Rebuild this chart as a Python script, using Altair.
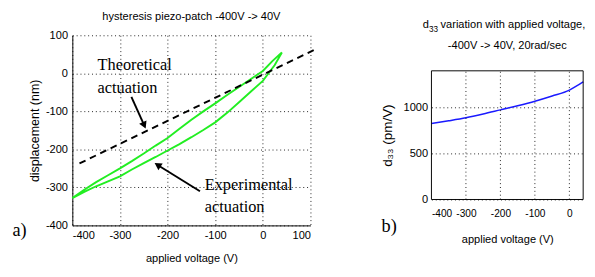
import altair as alt
import pandas as pd

# ---------- data ----------
# Left panel: hysteresis loop, rising branch (lower) then falling branch (upper)
up_volt = [-400, -375, -350, -325, -300, -275, -250, -225, -200, -175, -150, -125, -100, -75, -50, -25, 0, 10, 25, 40]
up_disp = [-328, -312, -297, -284, -271, -253, -236, -220, -203, -186, -168, -149, -129, -104, -76, -48, -20, -3, 22, 55]
down_volt = [40, 20, 0, -25, -50, -75, -100, -125, -150, -175, -200, -225, -250, -275, -300, -325, -350, -375, -400]
down_disp = [55, 32, 6, -15, -36, -57, -79, -100, -122, -146, -170, -190, -211, -231, -250, -268, -286, -306, -328]

theory_volt = [-385, 110]
theory_disp = [-237, 63]

left_ticks = [-400, -300, -200, -100, 0, 100]

# annotation texts (left aligned, baseline positions in data units)
ann_text = ["Theoretical", "actuation", "Experimental", "actuation"]
ann_volt = [-347, -347, -122, -122]
ann_disp = [8, -51, -306, -365]

# arrows: start -> tip
arrow_x = [-276, -132]
arrow_y = [-62, -310]
arrow_x2 = [-249, -221]
arrow_y2 = [-137, -241]
arrow_angle = [156, 302]

# Right panel: d33 vs voltage
d33_volt = [-400, -350, -300, -250, -200, -150, -100, -50, 0, 20, 40]
d33_val = [826, 856, 889, 930, 975, 1020, 1069, 1126, 1190, 1233, 1281]
right_xdomain = [-400, 40]
right_ydomain = [0, 1400]
right_xticks = [-400, -300, -200, -100, 0]
right_xgrid = [-300, -200, -100, 0]
right_yticks = [0, 500, 1000]

# ---------- styling ----------
SANS = "Liberation Sans, Arial, sans-serif"
SERIF = "Liberation Serif, Times New Roman, serif"
GREEN = "#22ee22"
FS = 11.5

loop_df = pd.DataFrame({
    "v": up_volt + down_volt,
    "d": up_disp + down_disp,
    "o": list(range(len(up_volt) + len(down_volt))),
})
theory_df = pd.DataFrame({"v": theory_volt, "d": theory_disp})
ann_df = pd.DataFrame({"t": ann_text, "v": ann_volt, "d": ann_disp})
arrow_df = pd.DataFrame({"x": arrow_x, "y": arrow_y, "x2": arrow_x2, "y2": arrow_y2, "a": arrow_angle})
d33_df = pd.DataFrame({"v": d33_volt, "d": d33_val})


def axis(values, title, orient, grid=True, domain=True, label_size=FS, **kw):
    return alt.Axis(
        values=values, tickCount=20, title=title, grid=grid, gridColor="#000", gridDash=[1, 3],
        gridWidth=1, gridOpacity=0.9, domain=domain, domainColor="#000", domainWidth=1,
        ticks=False, labelFont=SANS, labelFontSize=label_size, labelColor="#000", labelOverlap=False,
        labelExpr="toString(datum.value)", titleFont=SANS, titleFontWeight="normal", titleColor="#000",
        orient=orient, **kw)


def text_at(txt, x, y, size=FS, font=SANS, align="center"):
    return alt.Chart(pd.DataFrame({"t": [txt]})).mark_text(
        font=font, fontSize=size, align=align, baseline="middle", color="#000").encode(
        x=alt.value(x), y=alt.value(y), text="t:N")


# ---------------- left panel ----------------
xl = alt.X("v:Q", scale=alt.Scale(domain=[-400, 100], nice=False),
           axis=axis(left_ticks, "applied voltage (V)", "bottom", labelPadding=5,
                     titleFontSize=FS, titleY=35, titleBaseline="middle"))
yl = alt.Y("d:Q", scale=alt.Scale(domain=[-400, 100], nice=False),
           axis=axis(left_ticks, "displacement (nm)", "left", labelPadding=5,
                     titleFontSize=13, titleX=-39, titleBaseline="middle", titleAngle=270))

loop = alt.Chart(loop_df).mark_line(color=GREEN, strokeWidth=2).encode(x=xl, y=yl, order="o:Q")
theory = alt.Chart(theory_df).mark_line(color="#000", strokeWidth=2, strokeDash=[7, 5]).encode(x="v:Q", y="d:Q")
ann = alt.Chart(ann_df).mark_text(font=SERIF, fontSize=17, align="left", baseline="alphabetic", color="#000").encode(
    x="v:Q", y="d:Q", text="t:N")
arrows = alt.Chart(arrow_df).mark_rule(color="#000", strokeWidth=2).encode(x="x:Q", y="y:Q", x2="x2:Q", y2="y2:Q")
heads = alt.Chart(arrow_df).mark_point(shape="triangle-up", filled=True, size=70, color="#000", opacity=1).encode(
    x="x2:Q", y="y2:Q", angle=alt.Angle("a:Q", scale=None))
label_a = text_at("a)", -55, 203, size=19, font=SERIF)
title_l = text_at("hysteresis piezo-patch -400V -> 40V", 124, -19)

left = alt.layer(loop, theory, arrows, heads, ann, label_a, title_l).properties(
    width=248, height=198,
    view=alt.ViewBackground(stroke="transparent"),
)

# ---------------- right panel ----------------
# group is 171 px tall (aligned with the left plot top); the plot box is its lower 134 px
R_H = 171
R_TOP = 37
xr = alt.X("v:Q", scale=alt.Scale(domain=right_xdomain, nice=False),
           axis=axis(right_xticks, "applied voltage (V)", "bottom", grid=False, domain=False,
                     label_size=10.5, labelPadding=10, titleFontSize=FS, titleY=42,
                     titleBaseline="middle"))
yr = alt.Y("d:Q", scale=alt.Scale(domain=right_ydomain, nice=False, range=[R_H, R_TOP]),
           axis=axis(right_yticks, "d\u2083\u2083 (pm/V)", "left", domain=False,
                     labelPadding=4, titleFontSize=14, titleX=-46, titleY=(R_H + R_TOP) / 2,
                     titleBaseline="middle", titleAngle=270))

d33 = alt.Chart(d33_df).mark_line(color="#1a1aff", strokeWidth=1.5, interpolate="monotone").encode(x=xr, y=yr)

vgrid = alt.Chart(pd.DataFrame({"v": right_xgrid})).mark_rule(
    color="#000", strokeDash=[1, 3], strokeWidth=1, opacity=0.9).encode(
    x=alt.X("v:Q", scale=alt.Scale(domain=right_xdomain, nice=False)),
    y=alt.datum(right_ydomain[0]), y2=alt.datum(right_ydomain[1]))

box = alt.Chart(pd.DataFrame({"x": [right_xdomain[0]], "x2": [right_xdomain[1]],
                              "y": [right_ydomain[0]], "y2": [right_ydomain[1]]})).mark_rect(
    fillOpacity=0, stroke="#000", strokeWidth=1).encode(x="x:Q", x2="x2:Q", y="y:Q", y2="y2:Q")

label_b = text_at("b)", -44, 199, size=19, font=SERIF)

# two-line title drawn as text (line 1 with a real subscript)
t_d = text_at("d", -9, -11, align="left")
t_33 = text_at("33", -2.5, -6, size=8.5, align="left")
t_rest = text_at("variation with applied voltage,", 9.5, -11, align="left")
t_line2 = text_at("-400V -> 40V, 20rad/sec", 79, 11)

right = alt.layer(d33, vgrid, box, label_b, t_d, t_33, t_rest, t_line2).properties(
    width=158, height=R_H,
    view=alt.ViewBackground(stroke="transparent"),
)

chart = alt.hconcat(left, right, spacing=62).properties(
    padding={"left": 4, "top": -3, "right": 0, "bottom": 0},
    background="white",
).configure_axis(labelOverlap=False)

chart.save("out.html", embed_options={"renderer": "svg", "actions": False})
